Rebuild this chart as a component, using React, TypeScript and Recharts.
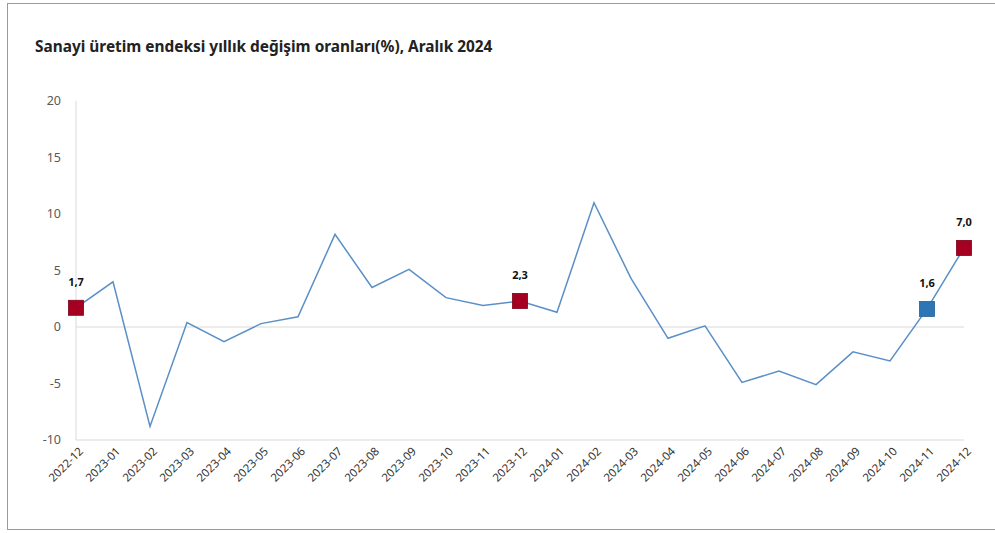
import { LineChart, Line, XAxis, YAxis, ReferenceLine } from "recharts";

const months = [
  "2022-12", "2023-01", "2023-02", "2023-03", "2023-04", "2023-05", "2023-06",
  "2023-07", "2023-08", "2023-09", "2023-10", "2023-11", "2023-12",
  "2024-01", "2024-02", "2024-03", "2024-04", "2024-05", "2024-06",
  "2024-07", "2024-08", "2024-09", "2024-10", "2024-11", "2024-12",
];

// yıllık değişim (%)
const annualChange = [
  1.7, 4.0, -8.8, 0.4, -1.3, 0.3, 0.9,
  8.2, 3.5, 5.1, 2.6, 1.9, 2.3,
  1.3, 11.0, 4.3, -1.0, 0.1, -4.9,
  -3.9, -5.1, -2.2, -3.0, 1.6, 7.0,
];

const yTicks = [-10, -5, 0, 5, 10, 15, 20];

// işaretli aylar
const redMarked = ["2022-12", "2023-12", "2024-12"];
const blueMarked = ["2024-11"];

const data = months.map((m, i) => ({ month: m, value: annualChange[i] }));

const RED = "#a50021";
const BLUE = "#2e75b6";

function MarkerDot(props: any) {
  const { cx, cy, payload, index } = props;
  const isRed = redMarked.includes(payload.month);
  const isBlue = blueMarked.includes(payload.month);
  if (!isRed && !isBlue) return <g key={`d-${index}`} />;
  const fill = isRed ? RED : BLUE;
  const label = payload.value.toFixed(1).replace(".", ",");
  return (
    <g key={`d-${index}`}>
      <rect x={cx - 7.5} y={cy - 7.5} width={15} height={15} fill={fill} stroke={isRed ? "#7a0018" : "#24609a"} strokeWidth={0.8} />
      <text x={cx} y={cy - 22} textAnchor="middle" fontSize={11} fontWeight="bold" fill="#111" fontFamily="Noto Sans, sans-serif">
        {label}
      </text>
    </g>
  );
}

function MonthTick(props: any) {
  const { x, y, payload } = props;
  return (
    <text
      x={x + 8}
      y={y + 12}
      transform={`rotate(-45, ${x + 8}, ${y + 12})`}
      textAnchor="end"
      fontSize={11.5}
      fill="#333"
      fontFamily="Noto Sans, sans-serif"
    >
      {payload.value}
    </text>
  );
}

export default function App() {
  return (
    <div style={{ position: "fixed", left: 0, top: 0, width: 995, height: 533, background: "#fff", overflow: "hidden" }}>
      <div style={{ position: "absolute", left: 7, top: 3, width: 1010, height: 527, border: "1.5px solid #8d9bb5", boxSizing: "border-box" }} />
      <div style={{ position: "absolute", left: 35, top: 36, fontFamily: "Noto Sans, sans-serif", fontWeight: "bold", fontSize: 15.4, color: "#222", whiteSpace: "nowrap" }}>
        Sanayi üretim endeksi yıllık değişim oranları(%), Aralık 2024
      </div>
      <div style={{ position: "absolute", left: 0, top: 0 }}>
        <LineChart width={995} height={533} data={data} margin={{ top: 101, right: 31, bottom: 0, left: 36 }}>
          <XAxis
            dataKey="month"
            interval={0}
            tick={<MonthTick />}
            tickLine={false}
            tickSize={0}
            tickMargin={0}
            axisLine={{ stroke: "#d9d9d9" }}
            height={93}
          />
          <YAxis
            domain={[-10, 20]}
            ticks={yTicks}
            width={40}
            tickLine={false}
            tickSize={0}
            tickMargin={15}
            axisLine={{ stroke: "#d9d9d9" }}
            tick={{ fontSize: 12.5, fill: "#595959", fontFamily: "Noto Sans, sans-serif" }}
          />
          <ReferenceLine y={0} stroke="#d9d9d9" />
          <Line
            type="linear"
            dataKey="value"
            stroke="#5b8fc7"
            strokeWidth={1.5}
            dot={<MarkerDot />}
            activeDot={false}
            isAnimationActive={false}
          />
        </LineChart>
      </div>
    </div>
  );
}
